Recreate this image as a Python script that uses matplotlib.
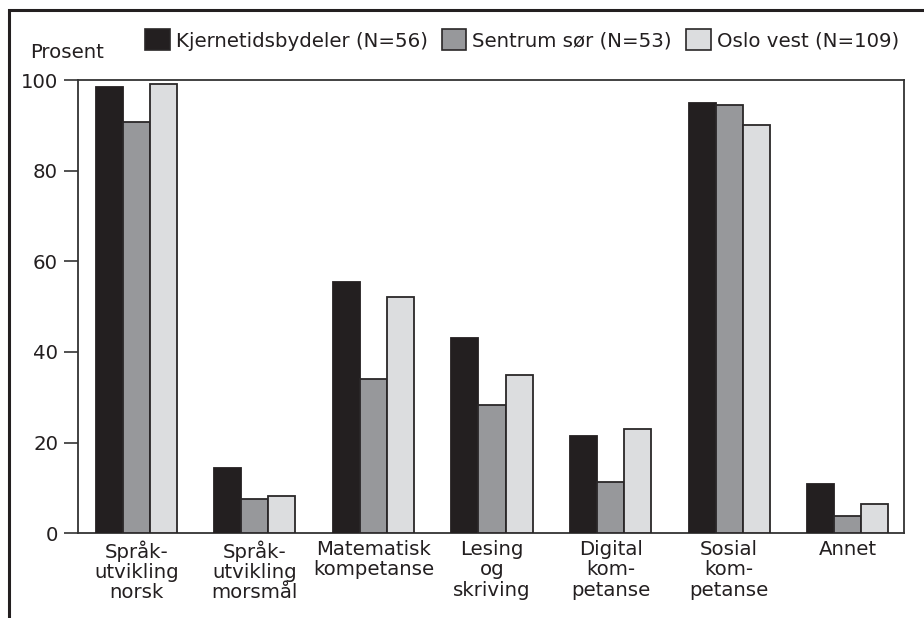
import matplotlib
matplotlib.use("Agg")
import matplotlib.pyplot as plt
from matplotlib.patches import Rectangle, Patch
import numpy as np

categories = ["Språk-\nutvikling\nnorsk", "Språk-\nutvikling\nmorsmål", "Matematisk\nkompetanse",
              "Lesing\nog\nskriving", "Digital\nkom-\npetanse", "Sosial\nkom-\npetanse", "Annet"]
series_names = ["Kjernetidsbydeler (N=56)", "Sentrum sør (N=53)", "Oslo vest (N=109)"]
kjerne = [98.5, 14.3, 55.5, 43.0, 21.4, 94.9, 10.8]
sentrum = [90.7, 7.5, 34.1, 28.3, 11.3, 94.5, 3.8]
oslovest = [99.2, 8.3, 52.2, 34.9, 23.0, 90.0, 6.4]
yticks = [0, 20, 40, 60, 80, 100]

colors = ["#231f20", "#97989b", "#dcdddf"]
edge = "#2a2728"

plt.rcParams['font.family'] = ['DejaVu Sans']
fs = 14.2

fig = plt.figure(figsize=(9.24, 6.18), dpi=100)
W, H = 924, 618
ax = fig.add_axes([77.5 / W, 1 - 533.3 / H, (903.5 - 77.5) / W, (533.3 - 80) / H])

x = np.arange(len(categories))
bw = 0.228
for i, (vals, name, c) in enumerate(zip([kjerne, sentrum, oslovest], series_names, colors)):
    ax.bar(x + (i - 1) * bw, vals, width=bw, color=c, edgecolor=edge if i > 0 else c,
           linewidth=1.3, label=name, zorder=3)

ax.set_xlim(-0.495, 6.47)
ax.set_ylim(0, 100)
ax.set_yticks(yticks)
ax.set_yticklabels([str(v) for v in yticks], fontsize=fs, color="#231f20")
ax.set_xticks(x)
ax.set_xticklabels(categories, fontsize=fs, color="#231f20", linespacing=1.08)
ax.tick_params(axis='x', length=0, pad=5)
ax.tick_params(axis='y', length=10, width=1.2, color="#333333", pad=4)
for s in ax.spines.values():
    s.set_color("#333333")
    s.set_linewidth(1.3)

fig.text(30 / W, 1 - 52 / H, "Prosent", fontsize=fs, color="#231f20", ha='left', va='center')

lh = [Patch(facecolor=c, edgecolor="#2a2728", linewidth=1.2) for c in colors]
leg = fig.legend(lh, series_names, loc='center left', bbox_to_anchor=(145 / W, 1 - 40 / H),
                 ncol=3, frameon=False, fontsize=fs, handlelength=1.25, handleheight=1.25,
                 handletextpad=0.3, columnspacing=0.72, borderaxespad=0, borderpad=0)
for t in leg.get_texts():
    t.set_color("#231f20")

# outer frame
fig.patches.append(Rectangle((8.5 / W, -0.1), 1.2, 1.1 - 10 / H, transform=fig.transFigure,
                             fill=False, edgecolor="#231f20", linewidth=2.2, clip_on=False))

fig.savefig("out.png", dpi=100)
